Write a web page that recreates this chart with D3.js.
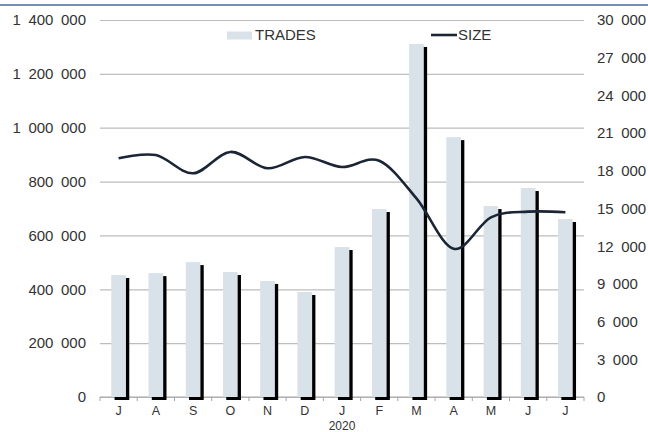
<!DOCTYPE html>
<html>
<head>
<meta charset="utf-8">
<script src="https://cdn.jsdelivr.net/npm/d3@7"></script>
<style>
  body { margin: 0; background: #fff; }
  svg { display: block; font-family: "Liberation Sans", Arial, sans-serif; }
</style>
</head>
<body>
<div id="chart"></div>
<script>
// months Jul 2019 - Jul 2020
var months = ['J', 'A', 'S', 'O', 'N', 'D', 'J', 'F', 'M', 'A', 'M', 'J', 'J'];
var trades = [453000, 460000, 501000, 464000, 431000, 390000, 557000, 698000, 1311000, 965000, 709000, 776000, 661000];
var size = [19000, 19250, 17800, 19500, 18200, 19100, 18300, 18800, 15800, 11800, 14300, 14750, 14700];
var leftTicks = [0, 200000, 400000, 600000, 800000, 1000000, 1200000, 1400000];
var rightTicks = [0, 3000, 6000, 9000, 12000, 15000, 18000, 21000, 24000, 27000, 30000];
var yearLabel = '2020';

var W = 648, H = 432;
var margin = {top: 20, right: 64, bottom: 35, left: 100};
var width = W - margin.left - margin.right,
    height = H - margin.top - margin.bottom;

var sep = '\u2002';
function fmt(v) { return d3.format(',')(v).replace(/,/g, sep); }

var svg = d3.select('#chart').append('svg')
  .attr('width', W)
  .attr('height', H);

// blue rule at the top
svg.append('line')
  .attr('x1', 0).attr('x2', W)
  .attr('y1', 5).attr('y2', 5)
  .attr('stroke', '#7190b7')
  .attr('stroke-width', 2);

var g = svg.append('g').attr('transform', 'translate(' + margin.left + ',' + margin.top + ')');

var x = d3.scaleBand().domain(d3.range(months.length)).range([0, width]);
var yL = d3.scaleLinear().domain([0, 1400000]).range([height, 0]);
var yR = d3.scaleLinear().domain([0, 30000]).range([height, 0]);

// left axis + gridlines
var leftAxis = g.append('g')
  .call(d3.axisLeft(yL).tickValues(leftTicks).tickSize(-width).tickPadding(14).tickFormat(fmt));
leftAxis.select('.domain').remove();
leftAxis.selectAll('.tick line').attr('stroke', '#bdbdbd').attr('stroke-width', 1.2);
leftAxis.selectAll('.tick text').attr('fill', '#333').style('font-size', '15px');

// right axis
var rightAxis = g.append('g')
  .attr('transform', 'translate(' + width + ',0)')
  .call(d3.axisRight(yR).tickValues(rightTicks).tickSize(0).tickPadding(13).tickFormat(fmt));
rightAxis.select('.domain').remove();
rightAxis.selectAll('.tick text').attr('fill', '#333').style('font-size', '15px');

// x axis: baseline with ticks at category boundaries
g.append('line')
  .attr('x1', 0).attr('x2', width)
  .attr('y1', height).attr('y2', height)
  .attr('stroke', '#a6a6a6').attr('stroke-width', 1.2);
g.selectAll('.xtick')
  .data(d3.range(months.length + 1))
  .enter().append('line')
  .attr('class', 'xtick')
  .attr('x1', function(d) { return d * x.step(); })
  .attr('x2', function(d) { return d * x.step(); })
  .attr('y1', height).attr('y2', height + 4)
  .attr('stroke', '#a6a6a6');
g.selectAll('.xlabel')
  .data(months)
  .enter().append('text')
  .attr('class', 'xlabel')
  .attr('x', function(d, i) { return x(i) + x.bandwidth() / 2; })
  .attr('y', height + 18)
  .attr('text-anchor', 'middle')
  .attr('fill', '#333')
  .style('font-size', '12.5px')
  .text(function(d) { return d; });
g.append('text')
  .attr('x', x(6) + x.bandwidth() / 2)
  .attr('y', height + 32.5)
  .attr('text-anchor', 'middle')
  .attr('fill', '#333')
  .style('font-size', '12px')
  .text(yearLabel);

// bars with a black drop shadow
var bw = 14.7;
g.selectAll('.shadow')
  .data(trades)
  .enter().append('rect')
  .attr('class', 'shadow')
  .attr('x', function(d, i) { return x(i) + x.bandwidth() / 2 - bw / 2 + 3.3; })
  .attr('y', function(d) { return yL(d) + 3; })
  .attr('width', bw)
  .attr('height', function(d) { return height - yL(d); })
  .attr('fill', '#000');
g.selectAll('.bar')
  .data(trades)
  .enter().append('rect')
  .attr('class', 'bar')
  .attr('x', function(d, i) { return x(i) + x.bandwidth() / 2 - bw / 2; })
  .attr('y', function(d) { return yL(d); })
  .attr('width', bw)
  .attr('height', function(d) { return height - yL(d); })
  .attr('fill', '#d9e1e9');

// smoothed SIZE line
var line = d3.line()
  .x(function(d, i) { return x(i) + x.bandwidth() / 2; })
  .y(function(d) { return yR(d); })
  .curve(d3.curveCardinal.tension(0));
g.append('path')
  .datum(size)
  .attr('d', line)
  .attr('fill', 'none')
  .attr('stroke', '#1b2535')
  .attr('stroke-width', 2.6);

// legend
svg.append('rect')
  .attr('x', 227).attr('y', 31.5)
  .attr('width', 25).attr('height', 8)
  .attr('fill', '#d9e1e9');
svg.append('text')
  .attr('x', 255).attr('y', 40)
  .attr('fill', '#333')
  .style('font-size', '15px')
  .text('TRADES');
svg.append('line')
  .attr('x1', 431).attr('x2', 457)
  .attr('y1', 35).attr('y2', 35)
  .attr('stroke', '#1b2535')
  .attr('stroke-width', 2.6);
svg.append('text')
  .attr('x', 458).attr('y', 40)
  .attr('fill', '#333')
  .style('font-size', '15px')
  .text('SIZE');
</script>
</body>
</html>
